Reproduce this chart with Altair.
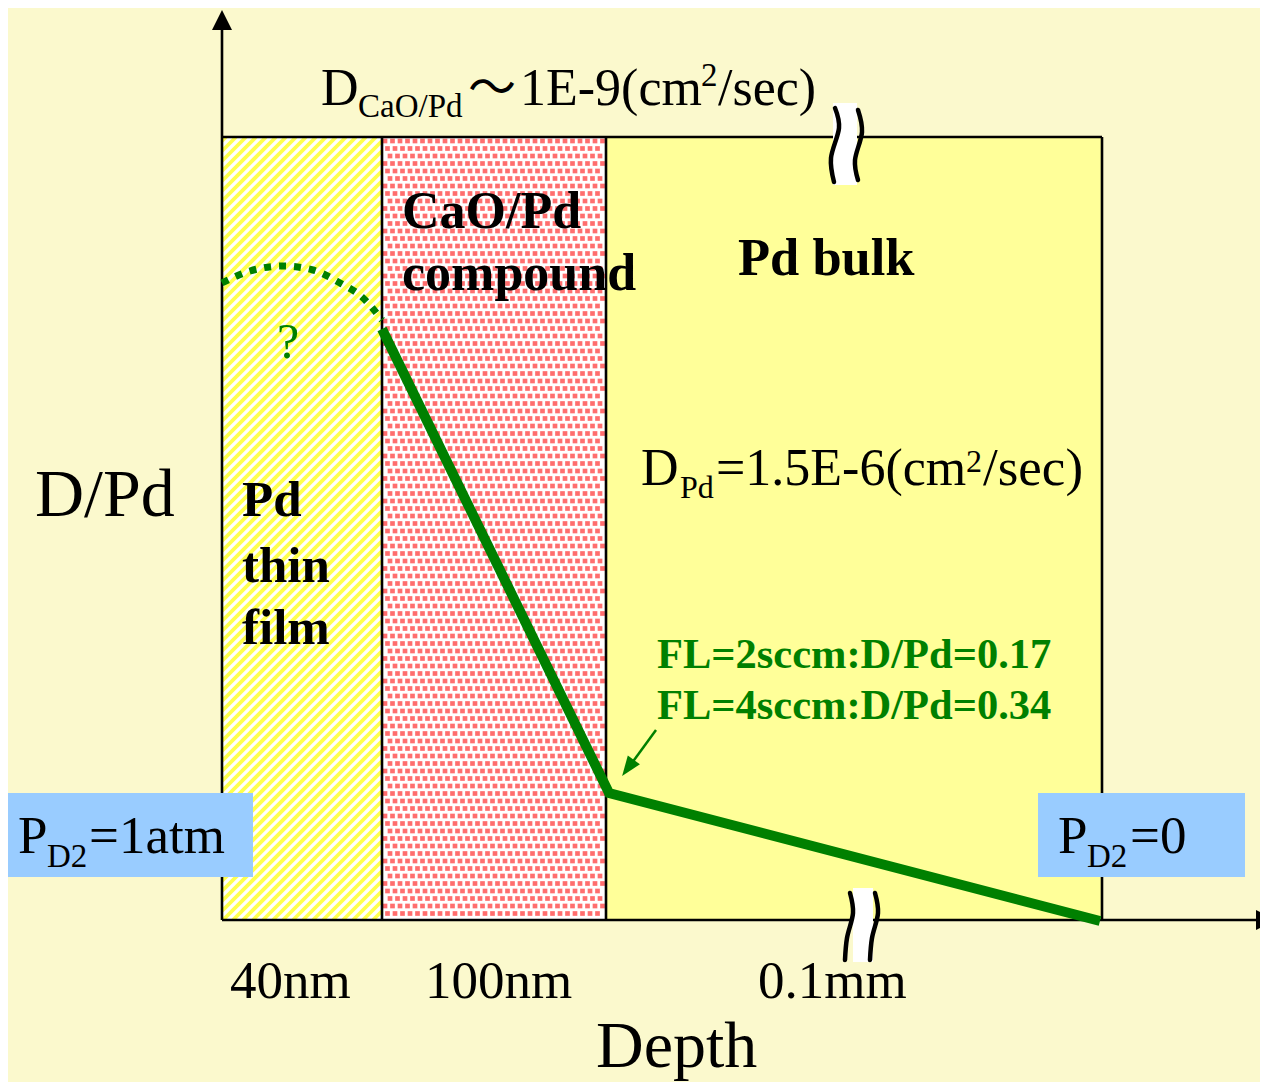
import altair as alt
import numpy as np
import pandas as pd

# ---------------- data (schematic coordinates, y grows downward) ----------------
region_names = ["Pd thin film", "CaO/Pd compound", "Pd bulk"]
region_left = [222, 382, 606]
region_right = [382, 606, 1102]
region_fill = ["#FFFFFF", "#FFFFFF", "#FFFF99"]
frame_top, frame_bottom = 137, 920
axis_x0, axis_x1 = 222, 1258
axis_y_top = 28

# D/Pd depth profile (solid) and the uncertain part in the thin film (dotted)
profile_depth = [382, 609, 1100]
profile_level = [329, 793, 921]
guess_depth = [222, 250, 283, 313, 340, 362, 382]
guess_level = [283, 271, 266, 270, 283, 297, 320]

# boundary-condition boxes
box_x0 = [0, 1038]
box_x1 = [253, 1245]
box_y0 = [793, 793]
box_y1 = [877, 877]

# axis-break marks
break_rect_x0 = [833, 853]
break_rect_x1 = [857, 873]
break_rect_y0 = [103, 888]
break_rect_y1 = [185, 962]
break_curves = {
    "top_left": ([835, 839, 831, 834], [108, 128, 158, 182]),
    "top_right": ([858, 862, 855, 858], [110, 132, 160, 180]),
    "bot_left": ([850, 853, 847, 845], [893, 913, 938, 960]),
    "bot_right": ([875, 878, 872, 870], [893, 913, 938, 960]),
}

depth_labels = ["40nm", "100nm", "0.1mm"]
fl_labels = ["FL=2sccm:D/Pd=0.17", "FL=4sccm:D/Pd=0.34"]

SERIF = "Liberation Serif"
CJK = "Noto Sans CJK JP"
GREEN = "#008000"
BLACK = "#000000"

# text pieces: text, x, baseline y, size, weight, color, font
text_rows = [
    ("D", 321, 105, 52, "normal", BLACK, SERIF),
    ("CaO/Pd", 358, 117, 33, "normal", BLACK, SERIF),
    ("～", 468, 104, 48, "normal", BLACK, CJK),
    ("1E-9(cm", 520, 105, 52, "normal", BLACK, SERIF),
    ("2", 701, 86, 33, "normal", BLACK, SERIF),
    ("/sec)", 718, 105, 52, "normal", BLACK, SERIF),
    ("CaO/Pd", 402, 228, 52, "bold", BLACK, SERIF),
    ("compound", 402, 290, 52, "bold", BLACK, SERIF),
    ("Pd bulk", 738, 275, 52.5, "bold", BLACK, SERIF),
    ("D/Pd", 35, 516, 68, "normal", BLACK, SERIF),
    ("Pd", 242, 516, 51, "bold", BLACK, SERIF),
    ("thin", 242, 582, 51, "bold", BLACK, SERIF),
    ("film", 242, 644, 51, "bold", BLACK, SERIF),
    ("?", 277, 358, 50, "normal", GREEN, SERIF),
    ("D", 641, 485, 52, "normal", BLACK, SERIF),
    ("Pd", 680, 498, 32, "normal", BLACK, SERIF),
    ("=1.5E-6(cm", 716, 485, 52, "normal", BLACK, SERIF),
    ("2", 966, 472, 32, "normal", BLACK, SERIF),
    ("/sec)", 983, 485, 53, "normal", BLACK, SERIF),
    (fl_labels[0], 657, 668, 42.5, "bold", GREEN, SERIF),
    (fl_labels[1], 657, 719, 42.5, "bold", GREEN, SERIF),
    ("P", 18, 853, 53, "normal", BLACK, SERIF),
    ("D2", 47, 867, 33, "normal", BLACK, SERIF),
    ("=1atm", 89, 853, 53, "normal", BLACK, SERIF),
    ("P", 1058, 853, 53, "normal", BLACK, SERIF),
    ("D2", 1087, 867, 33, "normal", BLACK, SERIF),
    ("=0", 1130, 853, 53, "normal", BLACK, SERIF),
    (depth_labels[0], 230, 998, 53, "normal", BLACK, SERIF),
    (depth_labels[1], 425, 998, 53, "normal", BLACK, SERIF),
    (depth_labels[2], 758, 998, 53, "normal", BLACK, SERIF),
    ("Depth", 596, 1067, 66, "normal", BLACK, SERIF),
]

# ---------------- scales ----------------
W, H = 1252, 1074
XS = alt.Scale(domain=[8, 8 + W], nice=False, zero=False)
YS = alt.Scale(domain=[8, 8 + H], nice=False, zero=False, reverse=True)


def X(f="x"):
    return alt.X(f, type="quantitative", scale=XS, axis=None)


def Y(f="y"):
    return alt.Y(f, type="quantitative", scale=YS, axis=None)


layers = []

# regions
reg_df = pd.DataFrame({"name": region_names, "x": region_left, "x2": region_right,
                       "y": frame_top, "y2": frame_bottom, "fill": region_fill})
layers.append(alt.Chart(reg_df).mark_rect(strokeWidth=0).encode(
    x=X(), x2="x2", y=Y(), y2="y2", color=alt.Color("fill:N", scale=None)))

# diagonal stripe texture for the thin film
sx0, sx1, sy0, sy1 = region_left[0], region_right[0], frame_top, frame_bottom
segs = []
for c in np.arange(sx0 + sy0 + 4, sx1 + sy1, 10.0):
    a = max(sx0, c - sy1)
    b = min(sx1, c - sy0)
    if b > a:
        segs.append({"x": a, "y": c - a, "x2": b, "y2": c - b})
layers.append(alt.Chart(pd.DataFrame(segs)).mark_rule(strokeWidth=3.8, color="#FFFF4D").encode(
    x=X(), y=Y(), x2="x2", y2="y2"))

# dotted texture for the compound layer
dots = []
dx0, dx1 = region_left[1] + 3, region_right[1] - 2
r = 0
for yy in np.arange(frame_top + 4, frame_bottom - 2, 7.5):
    shift = (r * 2.5) % 7.5
    for xx in np.arange(dx0 + shift, dx1, 7.5):
        dots.append({"x": xx, "y": yy})
    r += 1
layers.append(alt.Chart(pd.DataFrame(dots)).mark_square(size=22, color="#FF5555", opacity=0.85, strokeWidth=0).encode(
    x=X(), y=Y()))

# frame and axis lines
lines_df = pd.DataFrame([
    {"x": axis_x0, "x2": region_right[2], "y": frame_top, "y2": frame_top},
    {"x": region_right[2], "x2": region_right[2], "y": frame_top, "y2": frame_bottom},
    {"x": region_right[0], "x2": region_right[0], "y": frame_top, "y2": frame_bottom},
    {"x": region_right[1], "x2": region_right[1], "y": frame_top, "y2": frame_bottom},
    {"x": axis_x0, "x2": axis_x1, "y": frame_bottom, "y2": frame_bottom},
    {"x": axis_x0, "x2": axis_x0, "y": axis_y_top, "y2": frame_bottom},
])
layers.append(alt.Chart(lines_df).mark_rule(strokeWidth=2.6, color=BLACK).encode(
    x=X(), x2="x2", y=Y(), y2="y2"))

# axis arrowheads
layers.append(alt.Chart(pd.DataFrame({"x": [axis_x0], "y": [20]})).mark_point(
    shape="M0,-1L1,1L-1,1Z", size=400, filled=True, color=BLACK, opacity=1, strokeWidth=0).encode(x=X(), y=Y()))
layers.append(alt.Chart(pd.DataFrame({"x": [1266], "y": [frame_bottom]})).mark_point(
    shape="M1,0L-1,1L-1,-1Z", size=400, filled=True, color=BLACK, opacity=1, strokeWidth=0).encode(x=X(), y=Y()))

# profiles
gdf = pd.DataFrame({"x": guess_depth, "y": guess_level, "i": range(len(guess_depth))})
layers.append(alt.Chart(gdf).mark_line(color=GREEN, strokeWidth=7, strokeDash=[7, 8], interpolate="monotone").encode(
    x=X(), y=Y(), order="i:Q"))
pdf = pd.DataFrame({"x": profile_depth, "y": profile_level, "i": range(len(profile_depth))})
layers.append(alt.Chart(pdf).mark_line(color=GREEN, strokeWidth=10, strokeJoin="miter").encode(
    x=X(), y=Y(), order="i:Q"))

# annotation arrow
layers.append(alt.Chart(pd.DataFrame({"x": [656], "y": [730], "x2": [629], "y2": [767]})).mark_rule(
    strokeWidth=2.5, color=GREEN).encode(x=X(), y=Y(), x2="x2", y2="y2"))
layers.append(alt.Chart(pd.DataFrame({"x": [628], "y": [768]})).mark_point(
    shape="M0,-1L0.75,1L-0.75,1Z", size=400, angle=216, filled=True, color=GREEN, opacity=1, strokeWidth=0).encode(
    x=X(), y=Y()))

# break marks
brk = pd.DataFrame({"x": break_rect_x0, "x2": break_rect_x1, "y": break_rect_y0, "y2": break_rect_y1})
layers.append(alt.Chart(brk).mark_rect(color="#FFFFFF", strokeWidth=0).encode(x=X(), x2="x2", y=Y(), y2="y2"))
crv = []
for k, (xs, ys) in break_curves.items():
    for i, (a, b) in enumerate(zip(xs, ys)):
        crv.append({"k": k, "x": a, "y": b, "i": i})
layers.append(alt.Chart(pd.DataFrame(crv)).mark_line(color=BLACK, strokeWidth=4.5, interpolate="cardinal",
                                                       strokeCap="round").encode(
    x=X(), y=Y(), detail="k:N", order="i:Q"))

# boundary boxes
bdf = pd.DataFrame({"x": box_x0, "x2": box_x1, "y": box_y0, "y2": box_y1})
layers.append(alt.Chart(bdf).mark_rect(color="#99CCFF", strokeWidth=0).encode(x=X(), x2="x2", y=Y(), y2="y2"))

# texts
tdf = pd.DataFrame(text_rows, columns=["t", "x", "y", "fs", "w", "c", "f"])
for (w, c, f), g in tdf.groupby(["w", "c", "f"]):
    layers.append(alt.Chart(g).mark_text(align="left", baseline="alphabetic", font=f, fontWeight=w, color=c).encode(
        x=X(), y=Y(), text="t:N", size=alt.Size("fs:Q", scale=None)))

chart = alt.layer(*layers).properties(
    width=W, height=H, autosize=alt.AutoSizeParams(type="none"), padding=0,
    background="#FBF9CD",
).configure_view(stroke=None)

chart.save("out.html", embed_options={"renderer": "svg", "actions": False})
